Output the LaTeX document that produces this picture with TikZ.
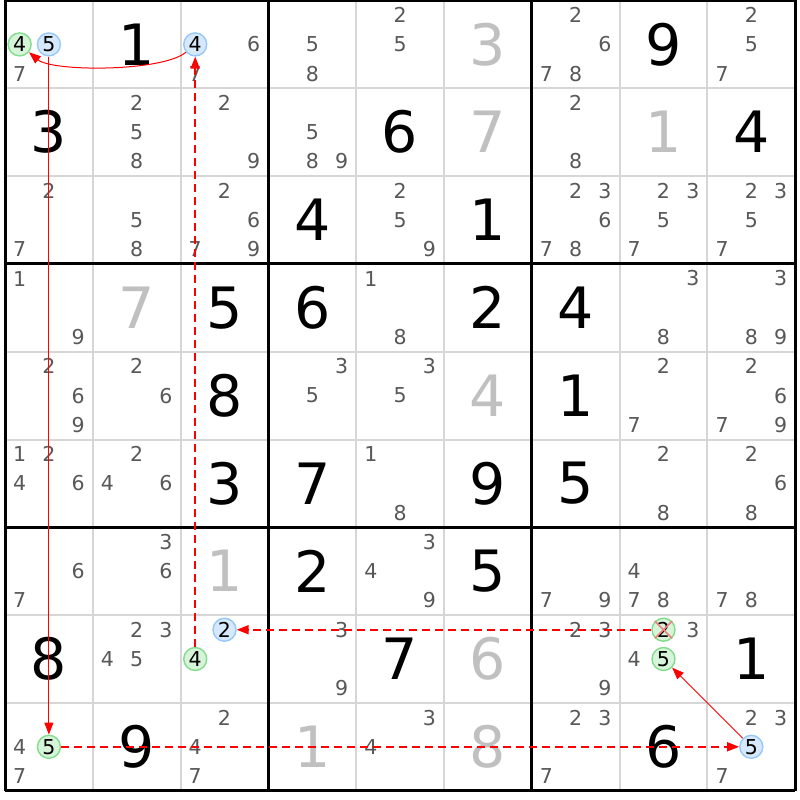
\documentclass[tikz,border=0pt]{standalone}
\usepackage{fontspec}
\setmainfont{DejaVu Sans}
\usetikzlibrary{arrows.meta}
\definecolor{candgray}{RGB}{88,88,88}
\definecolor{solgray}{RGB}{192,192,192}
\definecolor{thingrid}{RGB}{214,214,214}
\definecolor{bluefill}{RGB}{214,232,252}
\definecolor{bluedraw}{RGB}{150,200,250}
\definecolor{greenfill}{RGB}{214,244,218}
\definecolor{greendraw}{RGB}{130,220,140}
\definecolor{linkred}{RGB}{255,0,0}
\definecolor{xred}{RGB}{240,128,128}
\tikzset{
  cand/.style={font=\fontsize{20.5}{20.5}\selectfont, text=candgray, inner sep=0pt},
  givendig/.style={font=\fontsize{57}{57}\selectfont, text=black, inner sep=0pt},
  solveddig/.style={font=\fontsize{57}{57}\selectfont, text=solgray, inner sep=0pt},
  bluecirc/.style={circle, draw=bluedraw, fill=bluefill, line width=1.4pt, minimum size=23pt, text=black},
  greencirc/.style={circle, draw=greendraw, fill=greenfill, line width=1.4pt, minimum size=23pt, text=black},
  thinline/.style={draw=thingrid, line width=2pt},
  thickline/.style={draw=black, line width=3pt},
  link/.style={draw=linkred, line width=1pt, -{Triangle[length=12pt,width=9pt]}},
  dlink/.style={link, line width=1.7pt, dash pattern=on 8pt off 5pt},
  cross/.style={draw=xred, line width=1.6pt}
}
\newcommand\cands[3]{\foreach \d in {#3}{\node[cand] (k#1#2\d) at ({5+87.8*#2+14.633*(2*mod(\d-1,3)+1)},{0.5+87.8*#1+14.633*(2*floor((\d-1)/3)+1)}) {\d};}}
\newcommand\ccand[4]{\node[cand,#4] (k#1#2#3) at ({5+87.8*#2+14.633*(2*mod(#3-1,3)+1)},{0.5+87.8*#1+14.633*(2*floor((#3-1)/3)+1)}) {#3};}
\newcommand\gdig[3]{\node[givendig] (g#1#2) at ({5+87.8*(#2+0.5)},{0.5+87.8*(#1+0.5)}) {#3};}
\newcommand\sdig[3]{\node[solveddig] (g#1#2) at ({5+87.8*(#2+0.5)},{0.5+87.8*(#1+0.5)}) {#3};}
\begin{document}
\begin{tikzpicture}[x=1pt,y=-1pt]
\fill[white] (0,0) rectangle (800,800);
\useasboundingbox (0,0) rectangle (800,800);
% grid
\foreach \i in {1,2,4,5,7,8}{
  \draw[thinline] ({5+87.8*\i},0.5) -- ({5+87.8*\i},790.7);
  \draw[thinline] (5,{0.5+87.8*\i}) -- (795.2,{0.5+87.8*\i});
}
\foreach \i in {0,3,6,9}{
  \draw[thickline] ({5+87.8*\i},0.5) -- ({5+87.8*\i},790.7);
  \draw[thickline] (5,{0.5+87.8*\i}) -- (795.2,{0.5+87.8*\i});
}
% row 0
\cands{0}{0}{7}\ccand{0}{0}{4}{greencirc}\ccand{0}{0}{5}{bluecirc}
\gdig{0}{1}{1}
\cands{0}{2}{6,7}\ccand{0}{2}{4}{bluecirc}
\cands{0}{3}{5,8}
\cands{0}{4}{2,5}
\sdig{0}{5}{3}
\cands{0}{6}{2,6,7,8}
\gdig{0}{7}{9}
\cands{0}{8}{2,5,7}
% row 1
\gdig{1}{0}{3}
\cands{1}{1}{2,5,8}
\cands{1}{2}{2,9}
\cands{1}{3}{5,8,9}
\gdig{1}{4}{6}
\sdig{1}{5}{7}
\cands{1}{6}{2,8}
\sdig{1}{7}{1}
\gdig{1}{8}{4}
% row 2
\cands{2}{0}{2,7}
\cands{2}{1}{5,8}
\cands{2}{2}{2,6,7,9}
\gdig{2}{3}{4}
\cands{2}{4}{2,5,9}
\gdig{2}{5}{1}
\cands{2}{6}{2,3,6,7,8}
\cands{2}{7}{2,3,5,7}
\cands{2}{8}{2,3,5,7}
% row 3
\cands{3}{0}{1,9}
\sdig{3}{1}{7}
\gdig{3}{2}{5}
\gdig{3}{3}{6}
\cands{3}{4}{1,8}
\gdig{3}{5}{2}
\gdig{3}{6}{4}
\cands{3}{7}{3,8}
\cands{3}{8}{3,8,9}
% row 4
\cands{4}{0}{2,6,9}
\cands{4}{1}{2,6}
\gdig{4}{2}{8}
\cands{4}{3}{3,5}
\cands{4}{4}{3,5}
\sdig{4}{5}{4}
\gdig{4}{6}{1}
\cands{4}{7}{2,7}
\cands{4}{8}{2,6,7,9}
% row 5
\cands{5}{0}{1,2,4,6}
\cands{5}{1}{2,4,6}
\gdig{5}{2}{3}
\gdig{5}{3}{7}
\cands{5}{4}{1,8}
\gdig{5}{5}{9}
\gdig{5}{6}{5}
\cands{5}{7}{2,8}
\cands{5}{8}{2,6,8}
% row 6
\cands{6}{0}{6,7}
\cands{6}{1}{3,6}
\sdig{6}{2}{1}
\gdig{6}{3}{2}
\cands{6}{4}{3,4,9}
\gdig{6}{5}{5}
\cands{6}{6}{7,9}
\cands{6}{7}{4,7,8}
\cands{6}{8}{7,8}
% row 7
\gdig{7}{0}{8}
\cands{7}{1}{2,3,4,5}
\ccand{7}{2}{2}{bluecirc}\ccand{7}{2}{4}{greencirc}
\cands{7}{3}{3,9}
\gdig{7}{4}{7}
\sdig{7}{5}{6}
\cands{7}{6}{2,3,9}
\cands{7}{7}{3,4}\ccand{7}{7}{2}{greencirc}\ccand{7}{7}{5}{greencirc}
\gdig{7}{8}{1}
% row 8
\cands{8}{0}{4,7}\ccand{8}{0}{5}{greencirc}
\gdig{8}{1}{9}
\cands{8}{2}{2,4,7}
\sdig{8}{3}{1}
\cands{8}{4}{3,4}
\sdig{8}{5}{8}
\cands{8}{6}{2,3,7}
\gdig{8}{7}{6}
\cands{8}{8}{2,3,7}\ccand{8}{8}{5}{bluecirc}
% eliminated candidate
\draw[cross] (k772.north west) -- (k772.south east);
\draw[cross] (k772.north east) -- (k772.south west);
% links
\draw[link] (k024) to[bend left=40, looseness=0.5] (k004);
\draw[dlink] (k724) -- (k024);
\draw[link] (k005) -- (k805);
\draw[dlink] (k772) -- (k722);
\draw[dlink] (k805) -- (k885);
\draw[link, line width=0.8pt] (k885) -- (k775);
\end{tikzpicture}
\end{document}
